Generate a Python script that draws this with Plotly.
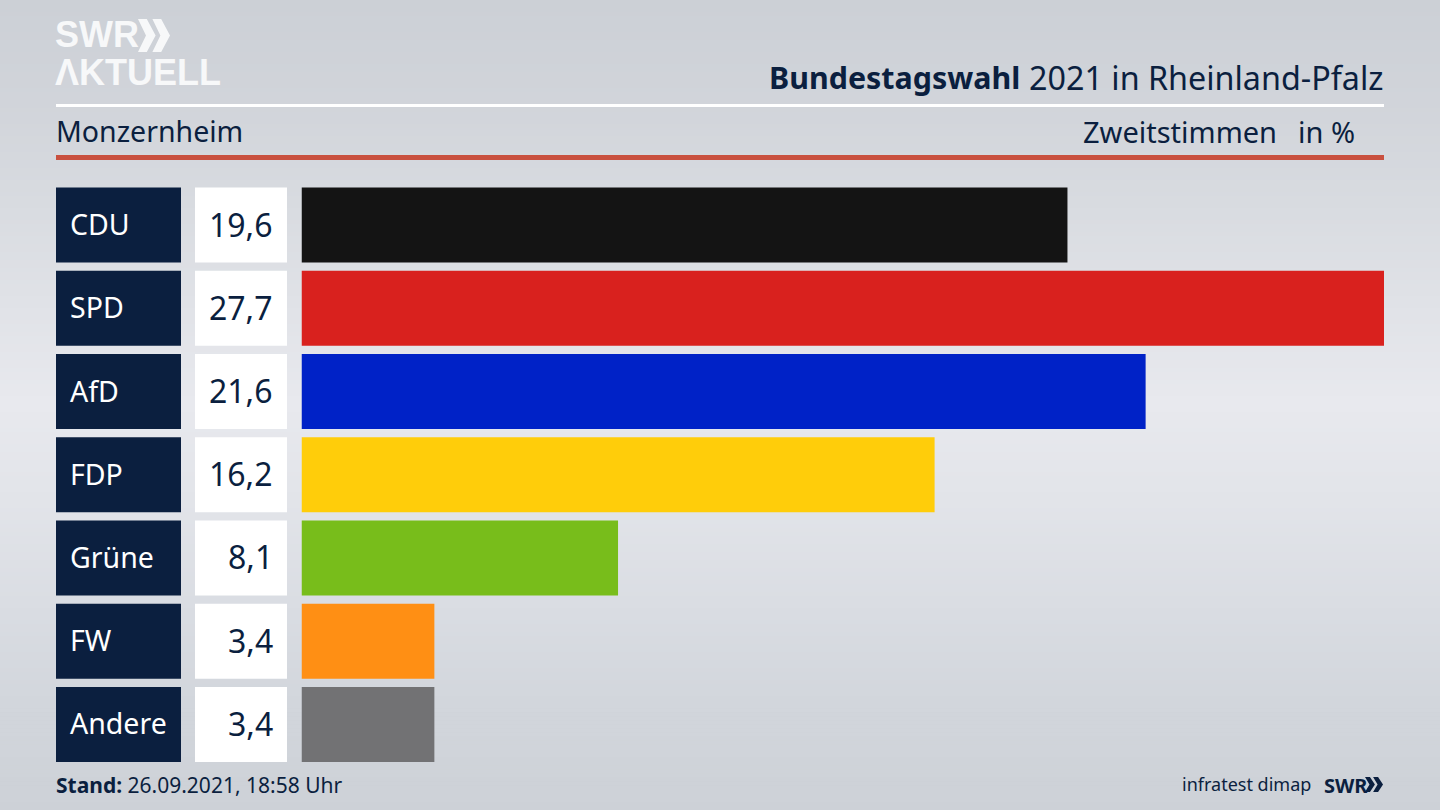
# bundestagswahl_bars.py
import plotly.graph_objects as go

W, H = 1440, 810

parties = ['CDU', 'SPD', 'AfD', 'FDP', 'Grüne', 'FW', 'Andere']
values = [19.6, 27.7, 21.6, 16.2, 8.1, 3.4, 3.4]
bar_colors = ['#141414', '#d9211e', '#0022c7', '#ffcd0a', '#78bd1b', '#ff8f14', '#727274']

NAVY = '#0b1f3f'
FONT = 'Noto Sans'
LOGO_FONT = 'Liberation Sans'

# background colours, top to bottom
bg_y = [0, 100, 200, 300, 400, 500, 600, 700, 810]
bg_r = [204, 209, 216, 224, 232, 226, 218, 210, 205]
bg_g = [208, 212, 219, 226, 233, 228, 221, 214, 209]
bg_b = [214, 218, 224, 231, 238, 233, 227, 220, 215]


def px(x):
    return x / W


def py(y):
    return 1 - y / H


def bg_shapes():
    shapes = []
    for i in range(len(bg_y) - 1):
        steps = (bg_y[i + 1] - bg_y[i]) // 4
        band = (bg_y[i + 1] - bg_y[i]) / steps
        for s in range(steps):
            top = bg_y[i] + s * band
            t = s / steps
            r = bg_r[i] + (bg_r[i + 1] - bg_r[i]) * t
            g = bg_g[i] + (bg_g[i + 1] - bg_g[i]) * t
            b = bg_b[i] + (bg_b[i + 1] - bg_b[i]) * t
            shapes.append(dict(type='rect', xref='paper', yref='paper', layer='below',
                               x0=0, x1=1, y0=py(top), y1=py(top + band),
                               fillcolor=f'rgb({r:.0f},{g:.0f},{b:.0f})', line_width=0))
    return shapes


def rule(y0, y1, color):
    return dict(type='rect', xref='paper', yref='paper', layer='below',
                x0=px(56), x1=px(1384), y0=py(y0), y1=py(y1),
                fillcolor=color, line_width=0)


def chevrons(x, y, w, h, color):
    # two arrow heads, the logo mark
    shapes = []
    for off in (0, w * 0.9):
        pts = [(x + off, y), (x + off + w * 0.55, y), (x + off + w * 1.1, y + h / 2),
               (x + off + w * 0.55, y + h), (x + off, y + h), (x + off + w * 0.5, y + h / 2)]
        path = 'M ' + ' L '.join(f'{px(a):.5f},{py(b):.5f}' for a, b in pts) + ' Z'
        shapes.append(dict(type='path', xref='paper', yref='paper', path=path,
                           fillcolor=color, line_width=0))
    return shapes


def label(x, y, text, size, color=NAVY, anchor='left', family=FONT):
    return dict(xref='paper', yref='paper', x=px(x), y=py(y), text=text, showarrow=False,
                xanchor=anchor, yanchor='middle', borderpad=0,
                font=dict(family=family, size=size, color=color))


fig = go.Figure()

# party name boxes, value boxes and the result bars share one category axis
fig.add_trace(go.Bar(y=parties, x=[1] * len(parties), orientation='h', xaxis='x2',
                     marker=dict(color=NAVY, line_width=0), hoverinfo='skip'))
fig.add_trace(go.Bar(y=parties, x=[1] * len(parties), orientation='h', xaxis='x3',
                     marker=dict(color='#ffffff', line_width=0), hoverinfo='skip'))
fig.add_trace(go.Bar(y=parties, x=values, orientation='h',
                     marker=dict(color=bar_colors, line_width=0)))

annotations = []
for party, value in zip(parties, values):
    annotations.append(dict(xref='paper', yref='y', x=px(68), y=party, text=party,
                            showarrow=False, xanchor='left', yanchor='middle', yshift=1,
                            font=dict(family=FONT, size=28.5, color='#ffffff')))
    annotations.append(dict(xref='paper', yref='y', x=px(275), y=party,
                            text=f'{value:.1f}'.replace('.', ','),
                            showarrow=False, xanchor='right', yanchor='middle', yshift=1,
                            font=dict(family=FONT, size=32, color=NAVY)))

annotations += [
    label(1385, 77, '2021 in Rheinland-Pfalz', 32.3, anchor='right'),
    label(1021, 77, '<b>Bundestagswahl</b>', 30.4, anchor='right'),
    label(55, 131, 'Monzernheim', 28.5),
    label(1278, 131, 'Zweitstimmen', 29, anchor='right'),
    label(1356, 131, 'in %', 29, anchor='right'),
    label(55, 785, '<b>Stand:</b> 26.09.2021, 18:58 Uhr', 21),
    label(1312, 784, 'infratest dimap', 18, anchor='right'),
    label(1323, 785, '<b>SWR</b>', 20),
    label(54, 35, '<b>SWR</b>', 36, color='#f7f8f9', family=LOGO_FONT),
    label(54, 72, '<b>ΛKTUELL</b>', 36, color='#f7f8f9', family=LOGO_FONT),
]

shapes = bg_shapes()
shapes += [rule(104, 107, '#ffffff'), rule(155, 160, '#c9503f')]
shapes += chevrons(138, 19, 16, 33, '#f7f8f9')
shapes += chevrons(1365, 777, 9, 15, NAVY)

hidden = dict(visible=False, fixedrange=True)
fig.update_layout(
    width=W,
    height=H,
    margin=dict(l=0, r=0, t=0, b=0),
    paper_bgcolor='#cdd1d7',
    plot_bgcolor='rgba(0,0,0,0)',
    showlegend=False,
    barmode='overlay',
    bargap=0.099,
    xaxis=dict(domain=[px(301.5), px(1384)], range=[0, 27.7], **hidden),
    xaxis2=dict(domain=[px(56), px(181)], range=[0, 1], anchor='y', **hidden),
    xaxis3=dict(domain=[px(195), px(287)], range=[0, 1], anchor='y', **hidden),
    yaxis=dict(domain=[py(766.1), py(183.4)], range=[6.5, -0.5], **hidden),
    annotations=annotations,
    shapes=shapes,
)

# the page's default body margin would push the figure off the window
fig.write_html("out.html", config=dict(displayModeBar=False),
               post_script="document.body.style.margin = '0';")
